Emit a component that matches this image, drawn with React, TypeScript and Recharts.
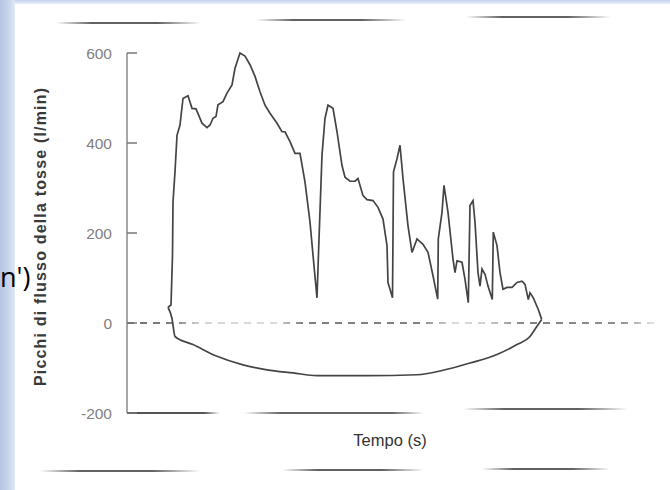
import React from 'react';
import { LineChart, Line, XAxis, YAxis, ReferenceLine } from 'recharts';

// ---- data (time in s, flow in l/min) ----
const coughTime = [
  0.41, 0.44, 0.455, 0.46, 0.48, 0.50, 0.53, 0.56, 0.61, 0.65, 0.69, 0.75, 0.80, 0.83, 0.86, 0.89,
  0.91, 0.96, 1.00, 1.05, 1.08, 1.13, 1.18, 1.23, 1.28, 1.33, 1.38, 1.43, 1.50, 1.55, 1.58, 1.63,
  1.68, 1.73, 1.78, 1.83, 1.87, 1.90, 1.92, 1.95, 1.98, 2.01, 2.06, 2.10, 2.15, 2.18, 2.23, 2.28,
  2.31, 2.36, 2.40, 2.46, 2.51, 2.56, 2.60, 2.61, 2.655, 2.665, 2.70, 2.73, 2.76, 2.81, 2.85, 2.90,
  2.96, 3.01, 3.06, 3.107, 3.113, 3.15, 3.17, 3.21, 3.26, 3.28, 3.30, 3.35, 3.38, 3.413, 3.43, 3.46,
  3.48, 3.51, 3.53, 3.55, 3.58, 3.61, 3.653, 3.663, 3.70, 3.73, 3.76, 3.80, 3.85, 3.90, 3.95, 3.98,
  4.013, 4.03, 4.063, 4.113, 4.147,
];
const coughFlow = [
  35, 40, 150, 269, 336, 417, 440, 499, 505, 477, 476, 444, 434, 440, 455, 459,
  485, 492, 511, 529, 566, 600, 593, 574, 548, 514, 484, 466, 444, 425, 425, 403,
  377, 377, 313, 224, 127, 56, 187, 373, 455, 484, 477, 425, 350, 324, 315, 315,
  321, 283, 274, 272, 257, 231, 172, 90, 56, 336, 365, 395, 321, 216, 157, 187,
  175, 157, 105, 53, 187, 246, 306, 246, 142, 112, 138, 135, 97, 45, 261, 272,
  224, 112, 82, 120, 108, 82, 52, 202, 172, 112, 75, 79, 79, 90, 93, 86,
  52, 67, 56, 30, 8,
];
const inspTime = [0.41, 0.45, 0.48, 0.66, 0.90, 1.16, 1.40, 1.66, 1.90, 2.40, 2.90, 3.16, 3.43, 3.70, 3.90, 4.03, 4.10, 4.147];
const inspFlow = [35, 10, -30, -48, -74, -93, -104, -111, -117, -117, -115, -105, -89, -70, -48, -30, -7, 8];
const yTicks = [-200, 0, 200, 400, 600];

const coughData = coughTime.map((t, i) => ({ t, flow: coughFlow[i] }));
const inspData = inspTime.map((t, i) => ({ t, flow: inspFlow[i] }));

// ---- layout ----
const W = 670;
const H = 490;
const AXIS_X = 127;
const FONT = '"Liberation Sans", Arial, Helvetica, sans-serif';

const YTick = (props: any) => {
  const { y, payload } = props;
  return (
    <g>
      <line x1={AXIS_X} x2={AXIS_X + 10} y1={y} y2={y} stroke="#777" strokeWidth={1.5} />
      <text x={112} y={y} textAnchor="end" dominantBaseline="central" fill="#808080" fontSize={15.5} fontFamily={FONT}>
        {payload.value}
      </text>
    </g>
  );
};

const YLabel = () => (
  <text
    transform="translate(40,237) rotate(-90)"
    textAnchor="middle"
    dominantBaseline="central"
    fill="#3a3a3a"
    fontSize={16}
    fontWeight="bold"
    fontFamily={FONT}
    textLength={298}
    lengthAdjust="spacing"
  >
    Picchi di flusso della tosse (l/min)
  </text>
);

const XLabel = () => (
  <text x={390} y={440} textAnchor="middle" dominantBaseline="central" fill="#333" fontSize={16.5} fontFamily={FONT}>
    Tempo (s)
  </text>
);

// scan-line artefacts of the photographed page
const scanLines = [
  { l: 56, w: 145, t: 22 },
  { l: 256, w: 150, t: 19 },
  { l: 466, w: 145, t: 16 },
  { l: 463, w: 165, t: 408 },
  { l: 40, w: 160, t: 470 },
  { l: 282, w: 142, t: 469 },
  { l: 482, w: 128, t: 468 },
];

export default function App() {
  return (
    <div style={{ position: 'fixed', left: 0, top: 0, width: W, height: H, background: '#fff', overflow: 'hidden' }}>
      <LineChart width={W} height={H} margin={{ top: 53, right: 13, bottom: 76, left: 87 }}>
        <defs>
          <linearGradient id="axisFade" gradientUnits="userSpaceOnUse" x1={127} x2={657} y1={0} y2={0}>
            <stop offset="0" stopColor="#555" stopOpacity={1} />
            <stop offset="0.145" stopColor="#555" stopOpacity={1} />
            <stop offset="0.175" stopColor="#555" stopOpacity={0} />
            <stop offset="0.22" stopColor="#555" stopOpacity={0} />
            <stop offset="0.29" stopColor="#555" stopOpacity={0.9} />
            <stop offset="0.50" stopColor="#555" stopOpacity={0.9} />
            <stop offset="0.56" stopColor="#555" stopOpacity={0} />
            <stop offset="1" stopColor="#555" stopOpacity={0} />
          </linearGradient>
          <linearGradient id="zeroFade" gradientUnits="userSpaceOnUse" x1={127} x2={657} y1={0} y2={0}>
            <stop offset="0" stopColor="#444" stopOpacity={1} />
            <stop offset="0.09" stopColor="#444" stopOpacity={0.9} />
            <stop offset="0.14" stopColor="#444" stopOpacity={0.3} />
            <stop offset="0.28" stopColor="#444" stopOpacity={0.25} />
            <stop offset="0.33" stopColor="#444" stopOpacity={0.9} />
            <stop offset="0.55" stopColor="#444" stopOpacity={0.9} />
            <stop offset="0.62" stopColor="#444" stopOpacity={0.25} />
            <stop offset="0.68" stopColor="#444" stopOpacity={0.35} />
            <stop offset="0.75" stopColor="#444" stopOpacity={0.9} />
            <stop offset="0.93" stopColor="#444" stopOpacity={0.8} />
            <stop offset="1" stopColor="#444" stopOpacity={0.15} />
          </linearGradient>
        </defs>
        <XAxis
          type="number"
          dataKey="t"
          domain={[0, 5.3]}
          allowDataOverflow
          height={1}
          tick={false}
          tickLine={false}
          axisLine={{ stroke: 'url(#axisFade)', strokeWidth: 2 }}
          label={{ content: () => <XLabel /> }}
        />
        <YAxis
          type="number"
          dataKey="flow"
          domain={[-200, 600]}
          ticks={yTicks}
          width={40}
          tickLine={false}
          axisLine={{ stroke: '#888', strokeWidth: 1.5 }}
          tick={<YTick />}
          label={{ content: () => <YLabel /> }}
        />
        <ReferenceLine y={0} stroke="url(#zeroFade)" strokeWidth={1.6} strokeDasharray="7 6" />
        <Line
          data={coughData}
          dataKey="flow"
          type="linear"
          stroke="#444"
          strokeWidth={1.7}
          dot={false}
          isAnimationActive={false}
        />
        <Line
          data={inspData}
          dataKey="flow"
          type="monotone"
          stroke="#444"
          strokeWidth={1.7}
          dot={false}
          isAnimationActive={false}
        />
      </LineChart>
      {scanLines.map((s, i) => (
        <div
          key={i}
          style={{
            position: 'absolute',
            left: s.l,
            top: s.t,
            width: s.w,
            height: 2,
            background:
              'linear-gradient(to right, rgba(70,70,70,0), rgba(70,70,70,0.85) 25%, rgba(70,70,70,0.85) 70%, rgba(70,70,70,0))',
            pointerEvents: 'none',
          }}
        />
      ))}
      <div
        style={{
          position: 'absolute',
          left: 0,
          top: 0,
          width: W,
          height: 4,
          background: 'linear-gradient(to bottom, #c3d1ea, #e8eef8)',
        }}
      />
      <div
        style={{
          position: 'absolute',
          left: 0,
          top: 0,
          width: 15,
          height: H,
          background: 'linear-gradient(to right, #b5c5e2, #cdd9ee 70%, #e2e9f5)',
        }}
      />
      <div
        style={{
          position: 'absolute',
          left: 0,
          top: 259,
          fontSize: 27,
          lineHeight: '36px',
          fontFamily: '"Open Sans", "Noto Sans", sans-serif',
          color: '#000',
          whiteSpace: 'nowrap',
        }}
      >
        n')
      </div>
    </div>
  );
}
